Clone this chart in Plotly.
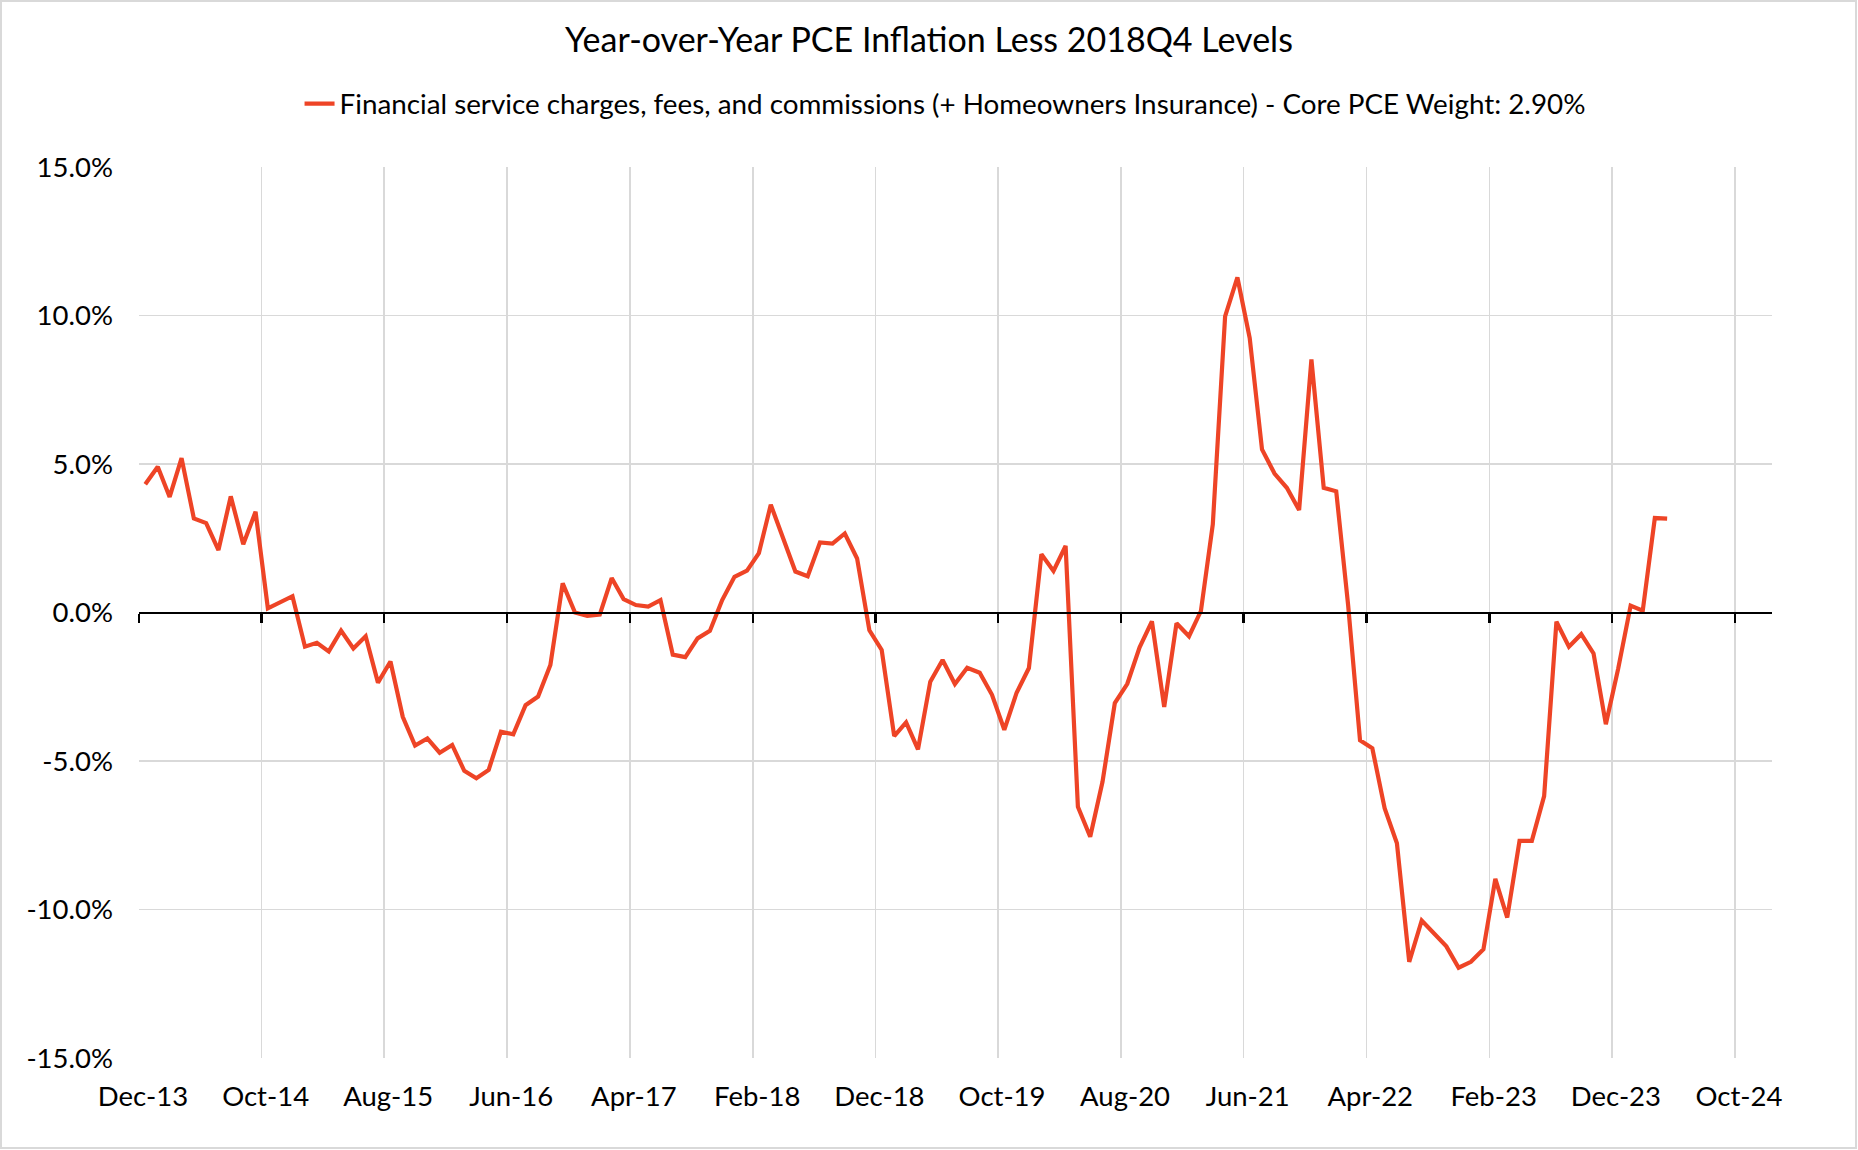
import pandas as pd
import plotly.graph_objects as go

# ---- data ----
start_month = "2013-12-01"
values = [
    4.32, 4.91, 3.89, 5.20, 3.17, 3.01, 2.10, 3.91, 2.30, 3.39,
    0.14, 0.33, 0.55, -1.15, -1.02, -1.31, -0.61, -1.21, -0.80, -2.36,
    -1.65, -3.51, -4.48, -4.24, -4.72, -4.46, -5.33, -5.58, -5.30, -4.01,
    -4.10, -3.12, -2.83, -1.77, 0.98, 0.00, -0.11, -0.07, 1.16, 0.45,
    0.25, 0.20, 0.42, -1.42, -1.50, -0.87, -0.62, 0.42, 1.20, 1.41,
    2.00, 3.63, 2.50, 1.38, 1.22, 2.36, 2.32, 2.66, 1.82, -0.60,
    -1.26, -4.16, -3.70, -4.61, -2.33, -1.60, -2.41, -1.86, -2.03, -2.77,
    -3.95, -2.70, -1.87, 1.96, 1.40, 2.24, -6.54, -7.55, -5.70, -3.05,
    -2.40, -1.17, -0.30, -3.18, -0.36, -0.80, 0.05, 2.97, 9.97, 11.28,
    9.24, 5.49, 4.68, 4.20, 3.45, 8.52, 4.20, 4.08, 0.25, -4.30,
    -4.57, -6.59, -7.77, -11.76, -10.37, -10.83, -11.24, -11.96, -11.76, -11.34,
    -8.97, -10.27, -7.69, -7.69, -6.18, -0.31, -1.15, -0.73, -1.38, -3.76,
    -1.90, 0.23, 0.06, 3.18, 3.16,
]
months = pd.date_range(start_month, periods=len(values), freq="MS")

series_name = ("Financial service charges, fees, and commissions (+ Homeowners Insurance)"
               " - Core PCE Weight: 2.90%")
title_text = "Year-over-Year PCE Inflation Less 2018Q4 Levels"

y_tickvals = [15, 10, 5, 0, -5, -10, -15]
y_ticktext = ["15.0%", "10.0%", "5.0%", "0.0%", "-5.0%", "-10.0%", "-15.0%"]
x_ticks = ["2013-12-01", "2014-10-01", "2015-08-01", "2016-06-01", "2017-04-01",
           "2018-02-01", "2018-12-01", "2019-10-01", "2020-08-01", "2021-06-01",
           "2022-04-01", "2023-02-01", "2023-12-01", "2024-10-01"]
x_ticktext = ["Dec-13", "Oct-14", "Aug-15", "Jun-16", "Apr-17", "Feb-18", "Dec-18",
              "Oct-19", "Aug-20", "Jun-21", "Apr-22", "Feb-23", "Dec-23", "Oct-24"]
x_range = ["2013-12-01", "2025-01-01"]

LINE = "#EE4426"
GRID = "#D9D9D9"
FONT = "Lato"

fig = go.Figure()
fig.add_trace(go.Scatter(
    x=months, y=values, mode="lines", name=series_name,
    xperiod="M1", xperiodalignment="middle",
    line=dict(color=LINE, width=4.2),
    showlegend=True,
))

# axis drawn across the zero line (Excel-style crossing axis with tick marks)
fig.add_trace(go.Scatter(x=[x_range[0]], y=[0], xaxis="x2", mode="markers",
                         marker=dict(opacity=0), showlegend=False, hoverinfo="skip"))

fig.update_layout(
    width=1858, height=1150,
    paper_bgcolor="white", plot_bgcolor="white",
    margin=dict(l=139, r=86, t=167, b=92),
    font=dict(family=FONT, color="#000000", size=27),
    title=dict(text=title_text, x=0.5, xref="container", xanchor="center",
               y=1 - 40 / 1150, yref="container", yanchor="middle",
               font=dict(family=FONT, size=34, color="#000000")),
    showlegend=True,
    hovermode=False,
    legend=dict(orientation="h", x=0.4936, xanchor="center", y=1.0707, yanchor="middle",
                font=dict(family=FONT, size=27.8, color="#000000"),
                bgcolor="rgba(0,0,0,0)", itemwidth=30),
    xaxis=dict(
        type="date", range=x_range,
        tickvals=x_ticks, ticktext=x_ticktext,
        showgrid=True, gridcolor=GRID, gridwidth=1.5,
        showline=False, zeroline=False, ticks="",
        tickfont=dict(family=FONT, size=27.5, color="#000000"),
        ticklabelstandoff=19, ticklabelshift=4,
    ),
    xaxis2=dict(
        type="date", range=x_range, overlaying="x", anchor="free", position=0.5,
        tickvals=x_ticks, showticklabels=False,
        showgrid=False, showline=True, linecolor="#000000", linewidth=2.5,
        ticks="outside", ticklen=9, tickwidth=2.5, tickcolor="#000000",
        zeroline=False,
    ),
    yaxis=dict(
        range=[-15, 15], tickvals=y_tickvals, ticktext=y_ticktext,
        showgrid=True, gridcolor=GRID, gridwidth=1.5,
        zeroline=False, showline=False, ticks="",
        tickfont=dict(family=FONT, size=27.5, color="#000000"),
        ticklabelstandoff=25,
    ),
    shapes=[dict(type="rect", xref="paper", yref="paper",
                 x0=(1 - 139) / 1633, x1=(1856 - 139) / 1633,
                 y0=(1058 - 1148) / 891, y1=(1058 - 1) / 891,
                 line=dict(color="#D9D9D9", width=2), fillcolor="rgba(0,0,0,0)",
                 layer="below")],
)

fig.write_html("out.html", config={"displayModeBar": False, "staticPlot": True},
               post_script="document.body.style.margin='0';document.body.style.overflow='hidden';")
